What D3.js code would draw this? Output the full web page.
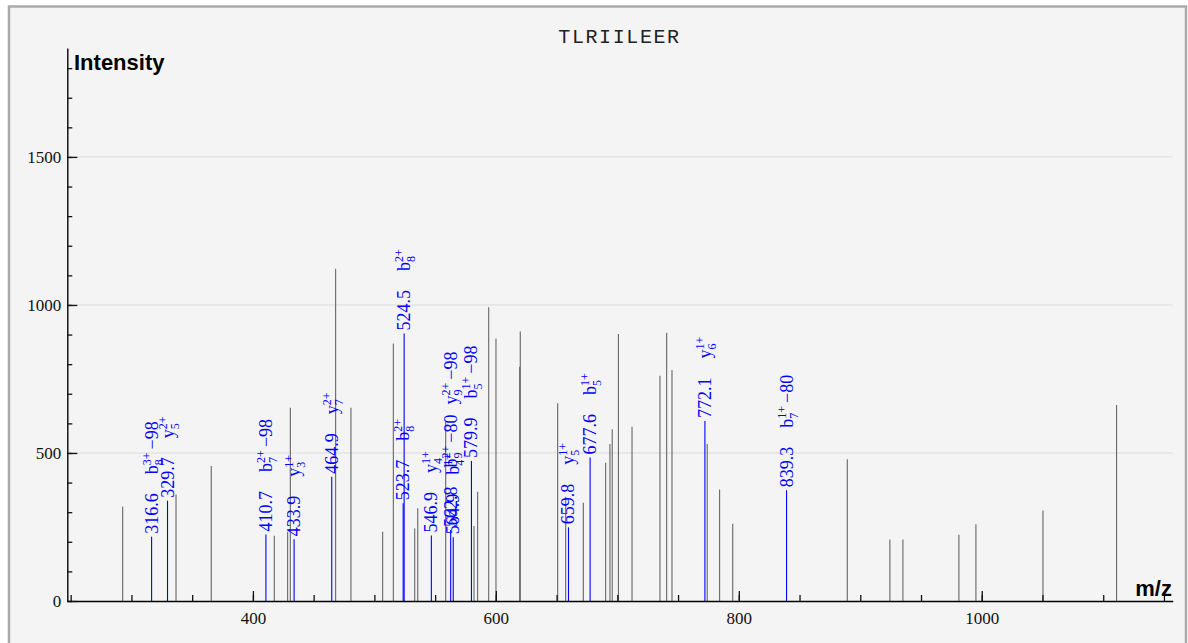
<!DOCTYPE html>
<html><head><meta charset="utf-8">
<script src="https://cdn.jsdelivr.net/npm/d3@7"></script>
<style>body{margin:0;background:#fff}</style></head>
<body><svg id="c" width="1188" height="643"></svg>
<script>
const title = "TLRIILEER";
const grayMz  = [292.8,336.7,365.7,417.6,428.6,430.8,468.1,480.7,506.8,515.6,533.2,535.7,558.7,582.0,585.0,594.1,600.1,619.6,620.1,650.9,657.5,672.0,690.4,693.9,695.8,700.9,712.1,735.1,740.6,745.0,774.0,784.2,795.0,889.3,924.4,935.1,981.2,995.2,1050.4,1111.0];
const grayInt = [319,360,456,220,234,653,1122,653,234,870,245,313,606,253,369,992,887,791,910,668,352,332,467,530,580,902,589,761,906,780,530,377,261,479,208,208,224,259,306,662];
const ionMz  = [316.6,329.7,410.7,433.9,464.9,523.7,524.5,546.9,562.8,564.9,579.9,659.8,677.6,772.1,839.3];
const ionInt = [217,339,225,209,420,330,904,221,240,215,473,249,485,608,374];
const ionAnn = ["b|8|3+|−98","y|5|2+|","b|7|2+|−98","y|3|1+|","y|7|2+|","b|8|2+|","b|8|2+|","y|4|1+|","b|9|2+|−80;y|9|2+|−98","b|4|1+|","b|5|1+|−98","y|5|1+|","b|5|1+|","y|6|1+|","b|7|1+|−80"];
const xMajorTicks = [400,600,800,1000];
const xMinorTicks = [250,300,350,400,450,500,550,600,650,700,750,800,850,900,950,1000,1050,1100,1150];
const yMajorTicks = [0,500,1000,1500];
const yMinorTicks = [0,100,200,300,400,500,600,700,800,900,1000,1100,1200,1300,1400,1500,1600,1700,1800];
const xTitle = "m/z", yTitle = "Intensity";

const svg = d3.select("#c");
svg.append("rect").attr("x",9).attr("y",6.5).attr("width",1177).attr("height",700)
  .attr("fill","#f4f4f4").attr("stroke","#aaaaaa").attr("stroke-width",2.5);

const x = d3.scaleLinear().domain([247.2,1157.2]).range([67.3,1172.7]);
const y = d3.scaleLinear().domain([0,1868]).range([601,48]);
const serif = "'Liberation Serif','Times New Roman',serif";

// grid
svg.append("g").selectAll("line").data(yMajorTicks.filter(d=>d>0)).join("line")
  .attr("x1",x.range()[0]).attr("x2",x.range()[1]).attr("y1",d=>y(d)).attr("y2",d=>y(d))
  .attr("stroke","#dcdcdc").attr("stroke-width",1);

// title
svg.append("text").attr("x",619.5).attr("y",43).attr("text-anchor","middle")
  .attr("font-family","'Liberation Mono','Courier New',monospace").attr("font-size",20)
  .attr("letter-spacing",1.6).attr("fill","#222").text(title);

// peaks
svg.append("g").selectAll("line").data(grayMz).join("line")
  .attr("x1",d=>x(d)).attr("x2",d=>x(d)).attr("y1",y(0)).attr("y2",(d,i)=>y(grayInt[i]))
  .attr("stroke","#666").attr("stroke-width",1.1);
svg.append("g").selectAll("line").data(ionMz).join("line")
  .attr("x1",d=>x(d)).attr("x2",d=>x(d)).attr("y1",y(0)).attr("y2",(d,i)=>y(ionInt[i]))
  .attr("stroke","#0000ff").attr("stroke-width",1.1);

// axes
const xa = svg.append("g").attr("transform",`translate(0,${y(0)})`);
xa.append("g").call(d3.axisBottom(x).tickValues(xMinorTicks).tickSize(-6).tickSizeOuter(0).tickFormat(""));
xa.append("g").call(d3.axisBottom(x).tickValues(xMajorTicks).tickSize(-10).tickSizeOuter(0).tickFormat(d3.format("d")))
  .call(g=>g.select(".domain").remove());
xa.selectAll("line").attr("stroke","#111").attr("stroke-width",1.3);
xa.selectAll(".domain").attr("stroke","#000").attr("stroke-width",1.6);
xa.selectAll("text").attr("y",22.5).attr("dy",0).attr("font-family",serif).attr("font-size",17).attr("fill","#111");

const ya = svg.append("g").attr("transform",`translate(${x.range()[0]},0)`);
ya.append("g").call(d3.axisLeft(y).tickValues(yMinorTicks).tickSize(-5).tickSizeOuter(0).tickFormat(""));
ya.append("g").call(d3.axisLeft(y).tickValues(yMajorTicks).tickSize(-10).tickPadding(6).tickFormat(d3.format("d")))
  .call(g=>g.select(".domain").remove());
ya.selectAll("line").attr("stroke","#111").attr("stroke-width",1.3);
ya.selectAll(".domain").attr("stroke","#222").attr("stroke-width",1.6);
ya.selectAll("text").attr("font-family",serif).attr("font-size",17).attr("fill","#111");

svg.append("text").attr("x",74).attr("y",70).attr("font-family","'Liberation Sans',Arial,sans-serif")
  .attr("font-weight","bold").attr("font-size",22).attr("fill","#000").text(yTitle);
svg.append("text").attr("x",1172).attr("y",596).attr("text-anchor","end").attr("font-family","'Liberation Sans',Arial,sans-serif")
  .attr("font-weight","bold").attr("font-size",22).attr("fill","#000").text(xTitle);

// labels
ionMz.forEach((mz,i)=>{
  const g = svg.append("g").attr("transform",`translate(${x(mz)+6},${y(ionInt[i])-3}) rotate(-90)`);
  const t = g.append("text").attr("font-family",serif).attr("font-size",18).attr("fill","#0000ff");
  t.append("tspan").text(mz.toFixed(1));
  ionAnn[i].split(";").forEach((a,k)=>{
    const [ion,sub,sup,loss] = a.split("|");
    t.append("tspan").attr("dx",k===0?19:10).text(ion);
    const s = t.append("tspan").attr("font-size",12).attr("dy",5).text(sub);
    const w = s.node().getComputedTextLength();
    t.append("tspan").attr("font-size",12).attr("dx",-w).attr("dy",-12).text(sup);
    t.append("tspan").attr("dy",7).attr("dx",loss?3:0).text(loss||"");
  });
});
</script></body></html>
